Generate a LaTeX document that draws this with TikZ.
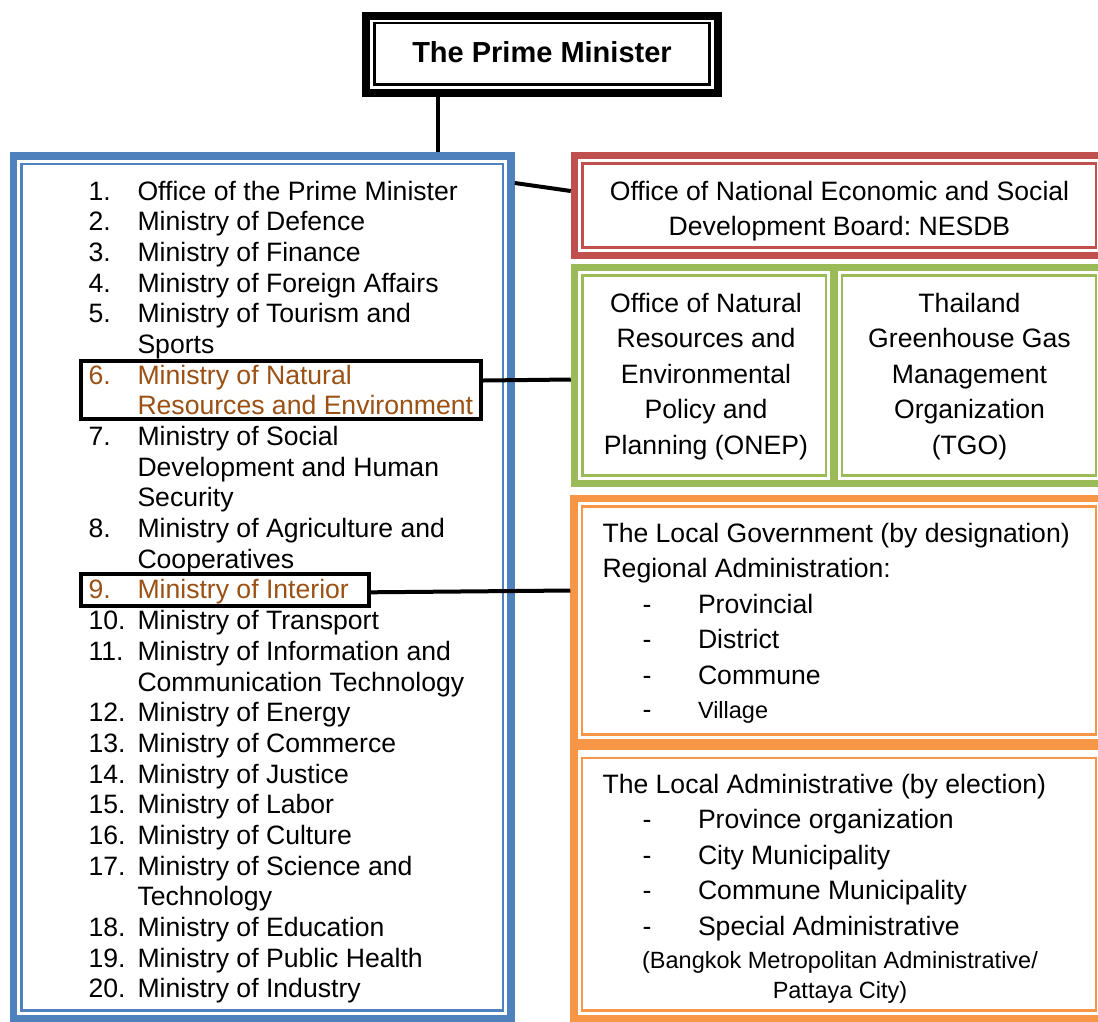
\documentclass[tikz,border=0pt]{standalone}
\usepackage{fontspec}
\setmainfont{Liberation Sans}
\frenchspacing
\definecolor{cblue}{HTML}{4F81BD}
\definecolor{cred}{HTML}{C0504D}
\definecolor{cgreen}{HTML}{9BBB59}
\definecolor{corange}{HTML}{F79646}
\definecolor{cbrown}{RGB}{155,80,20}
\begin{document}
\begin{tikzpicture}[x=1pt,y=-1pt,
  txt/.style={font=\fontsize{26.6}{30.7}\selectfont, anchor=base west, inner sep=0pt, outer sep=0pt},
  ctxt/.style={font=\fontsize{26.6}{30.7}\selectfont, anchor=base, inner sep=0pt, outer sep=0pt},
  stxt/.style={font=\fontsize{23.5}{28}\selectfont, anchor=base, inner sep=0pt, outer sep=0pt},
  frame/.style={draw, line width=7.5pt, inner sep=0pt},
  thinline/.style={line width=2.5pt},
  hilite/.style={draw=black, line width=4pt, inner sep=0pt},
  conn/.style={draw=black, line width=4pt}]
\useasboundingbox (0,0) rectangle (1098,1021);
\clip (0,0) rectangle (1098,1021);
\fill[white] (0,0) rectangle (1098,1021);

% Prime Minister
\node[frame, draw=black, line width=8pt, minimum width=351.5pt, minimum height=76.5pt] (pm) at (541.75,54.25) {};
\draw[black, thinline] (374.5,23) rectangle (709.5,84.5);
\node[ctxt, font=\bfseries\fontsize{29}{33}\selectfont] (pmtxt) at (542,62) {The Prime Minister};

% Blue frame
\node[frame, draw=cblue, minimum width=497.3pt, minimum height=862.5pt] (blue) at (262.35,587.25) {};
\draw[cblue, thinline] (21.7,164) rectangle (503,1010.5);

% Red frame
\node[frame, draw=cred, minimum width=529.5pt, minimum height=100pt] (red) at (839.25,205.5) {};
\draw[cred, thinline] (582.5,163.5) rectangle (1096,247.5);

% Green frame
\node[frame, draw=cgreen, minimum width=529.5pt, minimum height=216pt] (green) at (839.25,375.5) {};
\draw[cgreen, line width=8pt] (834,267.5) -- (834,483.5);
\draw[cgreen, thinline] (582.5,275.5) rectangle (826,475.5);
\draw[cgreen, thinline] (842,275.5) rectangle (1096,475.5);

% Orange frame
\node[frame, draw=corange, minimum width=530pt, minimum height=520pt] (orange) at (839,758.5) {};
\draw[corange, line width=11pt] (574,744.5) -- (1104,744.5);
\draw[corange, thinline] (582,506.5) rectangle (1096,734.5);
\draw[corange, thinline] (582,758) rectangle (1096,1010.5);

% Highlight boxes
\node[hilite, minimum width=400pt, minimum height=58pt] (b6) at (281,389.5) {};
\node[hilite, minimum width=288pt, minimum height=32pt] (b9) at (225,590) {};

% Ministry list: numbers
\foreach \i/\n/\c in {0/1./black,1/2./black,2/3./black,3/4./black,4/5./black,
  6/6./cbrown,8/7./black,11/8./black,13/9./cbrown,14/10./black,15/11./black,
  17/12./black,18/13./black,19/14./black,20/15./black,21/16./black,22/17./black,
  24/18./black,25/19./black,26/20./black}{
  \node[txt, text=\c] (num\i) at (88.5,{200+30.69*\i}) {\n};
}
% Ministry list: texts
\foreach \i/\t/\c in {0/Office of the Prime Minister/black,
  1/Ministry of Defence/black,
  2/Ministry of Finance/black,
  3/Ministry of Foreign Affairs/black,
  4/Ministry of Tourism and/black,
  5/Sports/black,
  6/Ministry of Natural/cbrown,
  7/Resources and Environment/cbrown,
  8/Ministry of Social/black,
  9/Development and Human/black,
  10/Security/black,
  11/Ministry of Agriculture and/black,
  12/Cooperatives/black,
  13/Ministry of Interior/cbrown,
  14/Ministry of Transport/black,
  15/Ministry of Information and/black,
  16/Communication Technology/black,
  17/Ministry of Energy/black,
  18/Ministry of Commerce/black,
  19/Ministry of Justice/black,
  20/Ministry of Labor/black,
  21/Ministry of Culture/black,
  22/Ministry of Science and/black,
  23/Technology/black,
  24/Ministry of Education/black,
  25/Ministry of Public Health/black,
  26/Ministry of Industry/black}{
  \node[txt, text=\c] (item\i) at (137.5,{200+30.69*\i}) {\t};
}

% Red box text
\node[ctxt] (r1) at (839.5,200) {Office of National Economic and Social};
\node[ctxt] (r2) at (839.5,235.5) {Development Board: NESDB};

% Green box texts
\node[ctxt] (g1) at (706,312) {Office of Natural};
\node[ctxt] (g2) at (706,347.5) {Resources and};
\node[ctxt] (g3) at (706,383) {Environmental};
\node[ctxt] (g4) at (706,418.5) {Policy and};
\node[ctxt] (g5) at (706,454) {Planning (ONEP)};
\node[ctxt] (h1) at (969.5,312) {Thailand};
\node[ctxt] (h2) at (969.5,347.5) {Greenhouse Gas};
\node[ctxt] (h3) at (969.5,383) {Management};
\node[ctxt] (h4) at (969.5,418.5) {Organization};
\node[ctxt] (h5) at (969.5,454) {(TGO)};

% Orange upper texts
\node[txt] (o1) at (602.5,542) {The Local Government (by designation)};
\node[txt] (o2) at (602.5,577.5) {Regional Administration:};
\node[txt] (od3) at (642.5,613) {-};
\node[txt] (o3) at (698,613) {Provincial};
\node[txt] (od4) at (642.5,648.5) {-};
\node[txt] (o4) at (698,648.5) {District};
\node[txt] (od5) at (642.5,684) {-};
\node[txt] (o5) at (698,684) {Commune};
\node[txt] (od6) at (642.5,718.5) {-};
\node[stxt, anchor=base west] (o6) at (698,718.5) {Village};

% Orange lower texts
\node[txt] (p1) at (602.5,793) {The Local Administrative (by election)};
\node[txt] (pd2) at (642.5,828.5) {-};
\node[txt] (p2) at (698,828.5) {Province organization};
\node[txt] (pd3) at (642.5,864) {-};
\node[txt] (p3) at (698,864) {City Municipality};
\node[txt] (pd4) at (642.5,899.5) {-};
\node[txt] (p4) at (698,899.5) {Commune Municipality};
\node[txt] (pd5) at (642.5,935) {-};
\node[txt] (p5) at (698,935) {Special Administrative};
\node[stxt] (p6) at (840,968) {(Bangkok Metropolitan Administrative/};
\node[stxt] (p7) at (840,998) {Pattaya City)};

% Connectors
\draw[conn] (pm.south -| 438,0) -- (blue.north -| 438,0);
\draw[conn] (blue.east |- 0,183) -- (red.west |- 0,191);
\draw[conn] (b6.east |- 0,380.5) -- (green.west |- 0,379.5);
\draw[conn] (b9.east |- 0,592.3) -- (orange.west |- 0,590.5);
\end{tikzpicture}
\end{document}
